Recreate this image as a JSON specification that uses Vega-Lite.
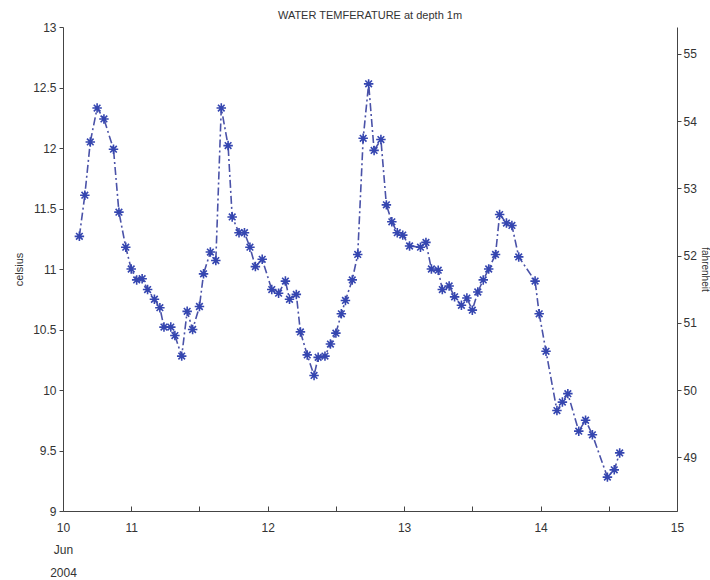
{
  "$schema": "https://vega.github.io/schema/vega-lite/v6.json",
  "width": 614,
  "height": 484,
  "autosize": "none",
  "padding": {"left": 63, "top": 27, "right": 33, "bottom": 69},
  "background": "white",
  "config": {
    "view": {"stroke": null},
    "font": "Liberation Sans",
    "axis": {
      "domainColor": "#444",
      "tickColor": "#444",
      "labelColor": "#333",
      "titleColor": "#333",
      "labelFont": "Liberation Sans",
      "titleFont": "Liberation Sans",
      "labelFontSize": 12,
      "titleFontSize": 11,
      "titleFontWeight": "normal",
      "grid": false
    }
  },
  "title": {
    "text": "WATER TEMFERATURE at depth 1m",
    "fontSize": 11,
    "fontWeight": "normal",
    "color": "#333",
    "font": "Liberation Sans",
    "anchor": "middle",
    "offset": 0
  },
  "layer": [
    {
      "data": {"values": [
        {"day": 10.62, "celsius": 11.27},
        {"day": 10.66, "celsius": 11.61},
        {"day": 10.70, "celsius": 12.05},
        {"day": 10.75, "celsius": 12.33},
        {"day": 10.80, "celsius": 12.24},
        {"day": 10.87, "celsius": 11.99},
        {"day": 10.91, "celsius": 11.47},
        {"day": 10.96, "celsius": 11.18},
        {"day": 11.00, "celsius": 11.00},
        {"day": 11.04, "celsius": 10.91},
        {"day": 11.08, "celsius": 10.92},
        {"day": 11.12, "celsius": 10.83},
        {"day": 11.17, "celsius": 10.75},
        {"day": 11.21, "celsius": 10.68},
        {"day": 11.24, "celsius": 10.52},
        {"day": 11.29, "celsius": 10.52},
        {"day": 11.32, "celsius": 10.45},
        {"day": 11.37, "celsius": 10.28},
        {"day": 11.41, "celsius": 10.65},
        {"day": 11.45, "celsius": 10.50},
        {"day": 11.50, "celsius": 10.69},
        {"day": 11.53, "celsius": 10.96},
        {"day": 11.58, "celsius": 11.14},
        {"day": 11.62, "celsius": 11.07},
        {"day": 11.66, "celsius": 12.33},
        {"day": 11.71, "celsius": 12.02},
        {"day": 11.74, "celsius": 11.43},
        {"day": 11.79, "celsius": 11.30},
        {"day": 11.83, "celsius": 11.30},
        {"day": 11.87, "celsius": 11.18},
        {"day": 11.91, "celsius": 11.02},
        {"day": 11.96, "celsius": 11.08},
        {"day": 12.03, "celsius": 10.83},
        {"day": 12.08, "celsius": 10.80},
        {"day": 12.13, "celsius": 10.90},
        {"day": 12.16, "celsius": 10.75},
        {"day": 12.21, "celsius": 10.79},
        {"day": 12.24, "celsius": 10.48},
        {"day": 12.29, "celsius": 10.29},
        {"day": 12.34, "celsius": 10.12},
        {"day": 12.37, "celsius": 10.27},
        {"day": 12.42, "celsius": 10.28},
        {"day": 12.46, "celsius": 10.38},
        {"day": 12.50, "celsius": 10.47},
        {"day": 12.54, "celsius": 10.63},
        {"day": 12.57, "celsius": 10.74},
        {"day": 12.62, "celsius": 10.91},
        {"day": 12.66, "celsius": 11.12},
        {"day": 12.70, "celsius": 12.08},
        {"day": 12.74, "celsius": 12.53},
        {"day": 12.78, "celsius": 11.98},
        {"day": 12.83, "celsius": 12.07},
        {"day": 12.87, "celsius": 11.53},
        {"day": 12.91, "celsius": 11.39},
        {"day": 12.95, "celsius": 11.30},
        {"day": 12.99, "celsius": 11.28},
        {"day": 13.04, "celsius": 11.19},
        {"day": 13.12, "celsius": 11.18},
        {"day": 13.16, "celsius": 11.22},
        {"day": 13.20, "celsius": 11.00},
        {"day": 13.25, "celsius": 10.99},
        {"day": 13.28, "celsius": 10.83},
        {"day": 13.33, "celsius": 10.86},
        {"day": 13.37, "celsius": 10.77},
        {"day": 13.42, "celsius": 10.70},
        {"day": 13.46, "celsius": 10.76},
        {"day": 13.50, "celsius": 10.66},
        {"day": 13.54, "celsius": 10.81},
        {"day": 13.58, "celsius": 10.91},
        {"day": 13.62, "celsius": 11.00},
        {"day": 13.67, "celsius": 11.12},
        {"day": 13.70, "celsius": 11.45},
        {"day": 13.75, "celsius": 11.38},
        {"day": 13.79, "celsius": 11.36},
        {"day": 13.84, "celsius": 11.10},
        {"day": 13.96, "celsius": 10.90},
        {"day": 13.99, "celsius": 10.63},
        {"day": 14.04, "celsius": 10.32},
        {"day": 14.12, "celsius": 9.83},
        {"day": 14.16, "celsius": 9.90},
        {"day": 14.20, "celsius": 9.97},
        {"day": 14.28, "celsius": 9.66},
        {"day": 14.33, "celsius": 9.75},
        {"day": 14.38, "celsius": 9.63},
        {"day": 14.49, "celsius": 9.28},
        {"day": 14.54, "celsius": 9.34},
        {"day": 14.58, "celsius": 9.48}
      ]},
      "encoding": {
        "x": {
          "field": "day",
          "type": "quantitative",
          "scale": {"domain": [10.5, 15], "nice": false, "zero": false},
          "axis": {
            "title": null,
            "values": [10.5, 11, 11.5, 12, 12.5, 13, 13.5, 14, 14.5, 15],
            "labelExpr": "datum.value == 10.5 ? ['10', 'Jun', '2004'] : (datum.value % 1 == 0 ? format(datum.value, 'd') : '')",
            "tickSize": -5,
            "labelPadding": 16,
            "labelLineHeight": 22.5,
            "labelBaseline": "top",
            "labelFlush": false,
            "labelOverlap": false
          }
        },
        "y": {
          "field": "celsius",
          "type": "quantitative",
          "scale": {"domain": [9, 13], "nice": false, "zero": false},
          "axis": {
            "title": "celsius",
            "values": [9, 9.5, 10, 10.5, 11, 11.5, 12, 12.5, 13],
            "format": "~g",
            "tickSize": 4,
            "labelPadding": 3,
            "titlePadding": 8,
            "labelFlush": false
          }
        }
      },
      "layer": [
        {
          "mark": {"type": "line", "color": "#4a52a8", "strokeWidth": 1.6, "strokeDash": [8, 3, 2, 3]}
        },
        {
          "mark": {
            "type": "point",
            "shape": "M-1,0L1,0M0,-1L0,1M-0.7,-0.7L0.7,0.7M-0.7,0.7L0.7,-0.7",
            "filled": false,
            "color": "#3546b0",
            "strokeWidth": 1.6,
            "size": 90,
            "opacity": 1
          }
        }
      ]
    },
    {
      "data": {"values": [{"fahrenheit": 48.2}, {"fahrenheit": 55.4}]},
      "mark": {"type": "point", "opacity": 0},
      "encoding": {
        "y": {
          "field": "fahrenheit",
          "type": "quantitative",
          "scale": {"domain": [48.2, 55.4], "nice": false, "zero": false},
          "axis": {
            "orient": "right",
            "title": "fahrenheit",
            "titleFontSize": 10,
            "values": [49, 50, 51, 52, 53, 54, 55],
            "tickSize": 4,
            "labelPadding": 2,
            "titlePadding": 3,
            "labelFlush": false
          }
        }
      }
    }
  ],
  "resolve": {"scale": {"y": "independent"}, "axis": {"y": "independent"}}
}
